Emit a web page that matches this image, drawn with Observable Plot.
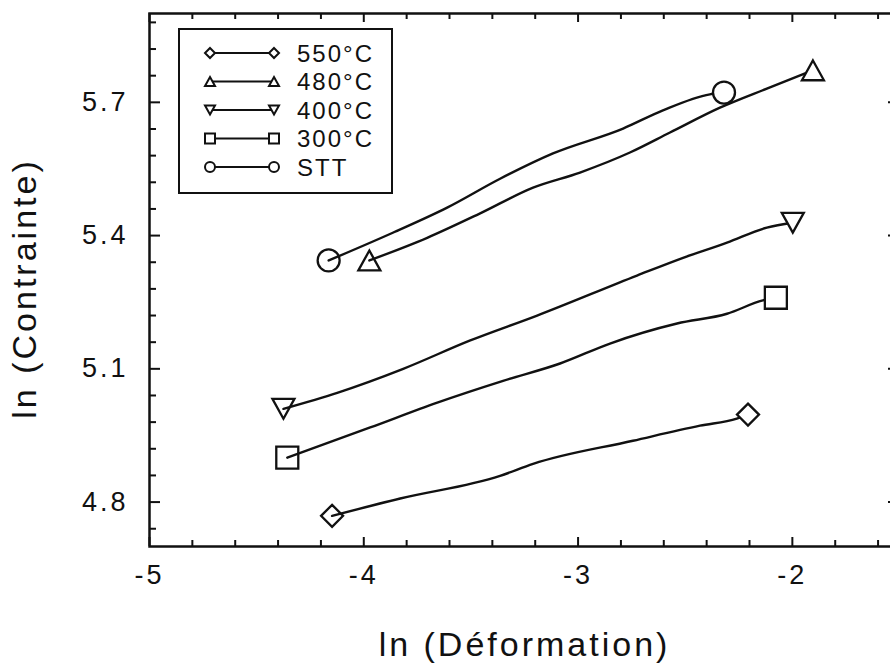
<!DOCTYPE html>
<html><head><meta charset="utf-8">
<script src="https://cdn.jsdelivr.net/npm/d3@7"></script>
<script src="https://cdn.jsdelivr.net/npm/@observablehq/plot@0.6"></script>
<style>
html,body{margin:0;padding:0;background:#fff;overflow:hidden;}
#chart svg{max-width:none !important;width:900px !important;height:664px !important;}
#chart svg text{letter-spacing:3px;}
#chart svg g[aria-label="x-axis tick label"] text{font-size:27px !important;}
#chart svg g[aria-label="y-axis tick label"] text{font-size:27px !important;}
#chart svg .legend text{letter-spacing:2px;text-anchor:start;}
</style></head><body><div id="chart"></div>
<script>
// ---- data ----
const seriesNames = ["550°C", "480°C", "400°C", "300°C", "STT"];
const x550 = [-4.148, -3.830, -3.364, -3.210, -2.744, -2.431, -2.259, -2.207];
const y550 = [4.769, 4.808, 4.859, 4.886, 4.938, 4.972, 4.988, 4.997];
const x480 = [-3.974, -3.704, -3.457, -3.210, -2.991, -2.758, -2.571, -2.338, -2.119, -1.904];
const y480 = [5.344, 5.395, 5.450, 5.508, 5.542, 5.587, 5.632, 5.688, 5.731, 5.772];
const x400 = [-4.375, -4.124, -3.816, -3.503, -3.191, -2.725, -2.510, -2.305, -2.119, -1.998];
const y400 = [5.010, 5.046, 5.100, 5.164, 5.220, 5.310, 5.350, 5.384, 5.418, 5.429];
const x300 = [-4.357, -3.970, -3.657, -3.350, -3.084, -2.851, -2.538, -2.305, -2.138, -2.077];
const y300 = [4.900, 4.968, 5.024, 5.073, 5.112, 5.157, 5.202, 5.224, 5.254, 5.260];
const xSTT = [-4.164, -3.862, -3.611, -3.364, -3.117, -2.790, -2.604, -2.385, -2.319];
const ySTT = [5.344, 5.407, 5.463, 5.528, 5.585, 5.641, 5.682, 5.718, 5.722];

const xMajorTicks = [-5, -4, -3, -2];
const xMinorTicks = [-4.8, -4.6, -4.4, -4.2, -3.8, -3.6, -3.4, -3.2, -2.8, -2.6, -2.4, -2.2, -1.8, -1.6];
const yMajorTicks = [4.8, 5.1, 5.4, 5.7];
const yMinorTicks = [4.74, 4.86, 4.92, 4.98, 5.04, 5.16, 5.22, 5.28, 5.34, 5.46, 5.52, 5.58, 5.64, 5.76, 5.82, 5.88];

const xLabel = "ln (Déformation)";
const yLabel = "ln (Contrainte)";

// ---- symbols ----
const mk = f => ({draw(ctx, size) { const r = Math.sqrt(size / Math.PI); f(ctx, r); }});
const symDiamond = mk((c, r) => { c.moveTo(0, -r); c.lineTo(r, 0); c.lineTo(0, r); c.lineTo(-r, 0); c.closePath(); });
const symUp = mk((c, r) => { c.moveTo(0, -0.9 * r); c.lineTo(r, 0.9 * r); c.lineTo(-r, 0.9 * r); c.closePath(); });
const symDown = mk((c, r) => { c.moveTo(0, 0.9 * r); c.lineTo(r, -0.9 * r); c.lineTo(-r, -0.9 * r); c.closePath(); });
const symSquare = mk((c, r) => { c.rect(-r, -r, 2 * r, 2 * r); });
const symCircle = mk((c, r) => { c.moveTo(r, 0); c.arc(0, 0, r, 0, 2 * Math.PI); });
const symbols = [symDiamond, symUp, symDown, symSquare, symCircle];

const xs = [x550, x480, x400, x300, xSTT];
const ys = [y550, y480, y400, y300, ySTT];
const rows = [];
seriesNames.forEach((s, i) => xs[i].forEach((x, j) => rows.push({series: s, x, y: ys[i][j]})));

const W = 900, H = 664, mL = 149, mR = 1, mT = 13, mB = 118;
const plotW = W - mL - mR, plotH = H - mT - mB;
const ink = "#111";

const dotMarks = [];
seriesNames.forEach((s, i) => {
  const pts = rows.filter(d => d.series === s);
  dotMarks.push(Plot.dot([pts[0]], {x: "x", y: "y", symbol: symbols[i], r: 11, stroke: ink, strokeWidth: 2.3, fill: "none"}));
  dotMarks.push(Plot.dot([pts[pts.length - 1]], {x: "x", y: "y", symbol: symbols[i], r: 11, stroke: ink, strokeWidth: 2.3, fill: "white"}));
});

const chart = Plot.plot({
  width: W, height: H,
  marginLeft: mL, marginRight: mR, marginTop: mT, marginBottom: mB,
  x: {domain: [-5, -1.5]},
  y: {domain: [4.7, 5.9]},
  style: {fontFamily: "'Liberation Sans', Arial, sans-serif", color: ink, background: "white", overflow: "visible"},
  marks: [
    // tick marks (inward) on all four sides
    Plot.tickX(xMajorTicks, {x: d => d, insetTop: plotH - 9, stroke: ink, strokeWidth: 2}),
    Plot.tickX(xMinorTicks, {x: d => d, insetTop: plotH - 6, stroke: ink, strokeWidth: 2}),
    Plot.tickX(xMajorTicks, {x: d => d, insetBottom: plotH - 9, stroke: ink, strokeWidth: 2}),
    Plot.tickX(xMinorTicks, {x: d => d, insetBottom: plotH - 6, stroke: ink, strokeWidth: 2}),
    Plot.tickY(yMajorTicks, {y: d => d, insetRight: plotW - 11, stroke: ink, strokeWidth: 2}),
    Plot.tickY(yMinorTicks, {y: d => d, insetRight: plotW - 7, stroke: ink, strokeWidth: 2}),
    Plot.tickY(yMajorTicks, {y: d => d, insetLeft: plotW - 11, stroke: ink, strokeWidth: 2}),
    Plot.tickY(yMinorTicks, {y: d => d, insetLeft: plotW - 7, stroke: ink, strokeWidth: 2}),
    Plot.frame({stroke: ink, strokeWidth: 2.5}),
    Plot.axisX({ticks: xMajorTicks, tickSize: 0, tickPadding: 18, fontSize: 27, tickFormat: d => String(d), label: null}),
    Plot.axisY({ticks: yMajorTicks, tickSize: 0, tickPadding: 21, fontSize: 27, tickFormat: d => d.toFixed(1), label: null}),
    Plot.line(rows, {x: "x", y: "y", z: "series", stroke: ink, strokeWidth: 2.4, curve: "monotone-x"}),
    ...dotMarks,
    Plot.text([xLabel], {frameAnchor: "bottom", dy: 109, lineAnchor: "bottom", fontSize: 34, fill: ink}),
    Plot.text([yLabel], {frameAnchor: "left", textAnchor: "middle", lineAnchor: "middle", rotate: -90, dx: -124, dy: 8.5, fontSize: 34, fill: ink})
  ]
});

// ---- legend ----
const svg = d3.select(chart);
const lg = svg.append("g").attr("class", "legend");
lg.append("rect").attr("x", 179).attr("y", 29).attr("width", 213).attr("height", 164)
  .attr("fill", "white").attr("stroke", ink).attr("stroke-width", 2);
seriesNames.forEach((s, i) => {
  const cy = 53 + i * 28.5;
  const g = lg.append("g");
  g.append("line").attr("x1", 210).attr("x2", 274).attr("y1", cy).attr("y2", cy)
    .attr("stroke", ink).attr("stroke-width", 2);
  const p = d3.symbol().type(symbols[i]).size(Math.PI * 25)();
  [210, 274].forEach(cx => g.append("path").attr("d", p).attr("transform", `translate(${cx},${cy})`)
    .attr("fill", "white").attr("stroke", ink).attr("stroke-width", 2));
  g.append("text").attr("x", 297).attr("y", cy + 8.6).attr("font-size", 24)
    .attr("text-anchor", "start").attr("fill", ink).text(s);
});

document.getElementById("chart").appendChild(chart);
</script></body></html>
